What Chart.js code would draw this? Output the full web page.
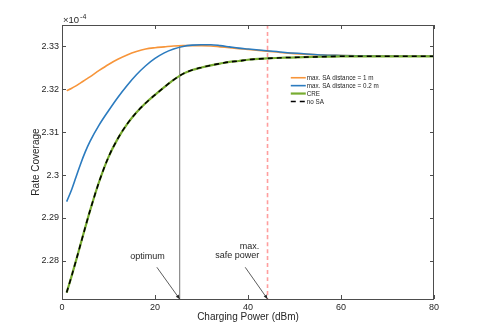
<!DOCTYPE html>
<html>
<head>
<meta charset="utf-8">
<script src="https://cdn.jsdelivr.net/npm/chart.js@4.4.1/dist/chart.umd.min.js"></script>
<style>
  html, body { margin: 0; padding: 0; background: #fff; }
  #wrap { width: 480px; height: 336px; }
</style>
</head>
<body>
<div id="wrap"><canvas id="chart" width="480" height="336"></canvas></div>
<script>
// x values (dBm) shared by every curve
const powerDbm = [1, 2, 3, 4, 5, 6, 8, 10, 12, 14, 16, 18, 20, 22, 24, 26, 28, 30, 32, 34, 36, 38, 40, 44, 48, 52, 56, 60, 65, 70, 75, 80];

// rate coverage, in units of 1e-4
const saDist1m = [2.3197, 2.3202, 2.3208, 2.3215, 2.3222, 2.3229, 2.3244, 2.3258, 2.3270, 2.3280, 2.3288, 2.3294, 2.3297, 2.3299, 2.3301, 2.3302,
  2.3302, 2.3302, 2.3301, 2.3299, 2.3297, 2.3295, 2.3293, 2.3289, 2.3285, 2.3282, 2.3280, 2.3279, 2.3278, 2.3277, 2.3277, 2.3277];
const saDist02m = [2.2938, 2.2964, 2.2995, 2.3026, 2.3054, 2.3078, 2.3117, 2.3150, 2.3181, 2.3209, 2.3234, 2.3255, 2.3272, 2.3285, 2.3294, 2.3300,
  2.3303, 2.3304, 2.3304, 2.3302, 2.3299, 2.3296, 2.3294, 2.3290, 2.3286, 2.3283, 2.3280, 2.3279, 2.3278, 2.3277, 2.3277, 2.3277];
const cre = [2.2726, 2.2762, 2.2800, 2.2839, 2.2878, 2.2916, 2.2985, 2.3042, 2.3085, 2.3119, 2.3146, 2.3168, 2.3187, 2.3205, 2.3222, 2.3236,
  2.3245, 2.3251, 2.3256, 2.3260, 2.3264, 2.3266, 2.3269, 2.3272, 2.3274, 2.3275, 2.3276, 2.3277, 2.3277, 2.3277, 2.3277, 2.3277];
const noSA = [2.2726, 2.2762, 2.2800, 2.2839, 2.2878, 2.2916, 2.2985, 2.3042, 2.3085, 2.3119, 2.3146, 2.3168, 2.3187, 2.3205, 2.3222, 2.3236,
  2.3245, 2.3251, 2.3256, 2.3260, 2.3264, 2.3266, 2.3269, 2.3272, 2.3274, 2.3275, 2.3276, 2.3277, 2.3277, 2.3277, 2.3277, 2.3277];

const seriesNames = ['max. SA distance = 1 m', 'max. SA distance = 0.2 m', 'CRE', 'no SA'];

// axes
const xTicks = [0, 20, 40, 60, 80];
const xRange = [0, 80];
const yTicks = [2.28, 2.29, 2.30, 2.31, 2.32, 2.33];
const yTickLabels = ['2.28', '2.29', '2.3', '2.31', '2.32', '2.33'];
const yRange = [2.2711, 2.3350];

// markers: optimum power and max. safe power
const optimumX = 25.3;
const optimumTopY = 2.3301;
const safePowerX = 44.2;

const FONT = '"Liberation Sans", Arial, Helvetica, sans-serif';
const INK = '#262626';
const AXIS = '#4d4d4d';

const toXY = (arr) => arr.map((v, i) => ({ x: powerDbm[i], y: v }));

const data = {
  datasets: [
    { label: seriesNames[3], data: toXY(noSA), borderColor: '#000000', borderWidth: 1.6, borderDash: [5, 4] },
    { label: seriesNames[2], data: toXY(cre), borderColor: '#77ac30', borderWidth: 2.2 },
    { label: seriesNames[1], data: toXY(saDist02m), borderColor: '#2b7bbf', borderWidth: 1.6 },
    { label: seriesNames[0], data: toXY(saDist1m), borderColor: '#f7953a', borderWidth: 1.6 },
    { label: 'optimum', data: [{ x: optimumX, y: optimumTopY }, { x: optimumX, y: yRange[0] }], borderColor: '#8c8c8c', borderWidth: 1.2 },
    { label: 'max. safe power', data: [{ x: safePowerX, y: yRange[1] }, { x: safePowerX, y: yRange[0] }], borderColor: '#ff9e9e', borderWidth: 1.6, borderDash: [4, 3] }
  ].map(d => Object.assign({ pointRadius: 0, fill: false, cubicInterpolationMode: 'monotone' }, d))
};

// arrow helper
function arrow(ctx, x1, y1, x2, y2) {
  const a = Math.atan2(y2 - y1, x2 - x1), h = 4.5;
  ctx.beginPath();
  ctx.moveTo(x1, y1);
  ctx.lineTo(x2, y2);
  ctx.stroke();
  ctx.beginPath();
  ctx.moveTo(x2, y2);
  ctx.lineTo(x2 - h * Math.cos(a - 0.4), y2 - h * Math.sin(a - 0.4));
  ctx.lineTo(x2 - h * Math.cos(a + 0.4), y2 - h * Math.sin(a + 0.4));
  ctx.closePath();
  ctx.fill();
}

// MATLAB-like box, inward ticks, exponent, legend and annotations
const matlabLook = {
  id: 'matlabLook',
  afterDatasetsDraw(chart) {
    const { ctx, chartArea: a, scales: { x, y } } = chart;
    ctx.save();
    // box + inward ticks
    ctx.strokeStyle = AXIS;
    ctx.lineWidth = 1;
    ctx.strokeRect(a.left + 0.5, a.top + 0.5, a.right - a.left - 1, a.bottom - a.top);
    ctx.beginPath();
    xTicks.forEach(v => {
      const px = Math.round(x.getPixelForValue(v)) + 0.5;
      ctx.moveTo(px, a.bottom); ctx.lineTo(px, a.bottom - 4);
      ctx.moveTo(px, a.top); ctx.lineTo(px, a.top + 4);
    });
    yTicks.forEach(v => {
      const py = Math.round(y.getPixelForValue(v)) + 0.5;
      ctx.moveTo(a.left, py); ctx.lineTo(a.left + 4, py);
      ctx.moveTo(a.right, py); ctx.lineTo(a.right - 4, py);
    });
    ctx.stroke();

    // exponent label
    ctx.fillStyle = INK;
    ctx.textBaseline = 'alphabetic';
    ctx.textAlign = 'left';
    ctx.font = '9.5px ' + FONT;
    ctx.fillText('\u00d710', a.left + 1, a.top - 2);
    const w = ctx.measureText('\u00d710').width;
    ctx.font = '7px ' + FONT;
    ctx.fillText('-4', a.left + 1 + w + 1, a.top - 6);

    // legend
    const lx = x.getPixelForValue(49.2), ly0 = y.getPixelForValue(2.3227);
    ctx.font = '6.3px ' + FONT;
    ctx.textBaseline = 'middle';
    const legendSets = [3, 2, 1, 0];
    legendSets.forEach((di, i) => {
      const ds = data.datasets[di];
      const yy = ly0 + i * 7.9;
      ctx.strokeStyle = ds.borderColor;
      ctx.lineWidth = ds.borderWidth;
      ctx.setLineDash(ds.borderDash || []);
      ctx.beginPath();
      ctx.moveTo(lx, yy); ctx.lineTo(lx + 15, yy);
      ctx.stroke();
      ctx.setLineDash([]);
      ctx.fillStyle = INK;
      ctx.fillText(ds.label, lx + 16, yy + 0.5);
    });

    // annotations
    ctx.fillStyle = INK;
    ctx.strokeStyle = '#333333';
    ctx.lineWidth = 0.8;
    ctx.font = '9px ' + FONT;
    ctx.textBaseline = 'middle';
    ctx.textAlign = 'center';
    ctx.fillText('optimum', x.getPixelForValue(18.4), y.getPixelForValue(2.2809));
    arrow(ctx, x.getPixelForValue(20.4), y.getPixelForValue(2.2785), x.getPixelForValue(optimumX), y.getPixelForValue(yRange[0]));
    ctx.textAlign = 'right';
    ctx.fillText('max.', x.getPixelForValue(42.4), y.getPixelForValue(2.2833));
    ctx.fillText('safe power', x.getPixelForValue(42.4), y.getPixelForValue(2.2813));
    arrow(ctx, x.getPixelForValue(39.4), y.getPixelForValue(2.2785), x.getPixelForValue(safePowerX), y.getPixelForValue(yRange[0]));
    ctx.restore();
  }
};

new Chart(document.getElementById('chart'), {
  type: 'line',
  data: data,
  options: {
    responsive: false,
    devicePixelRatio: 1,
    animation: false,
    layout: { padding: { top: 25, right: 46, left: 0, bottom: 0 } },
    plugins: { legend: { display: false }, tooltip: { enabled: false } },
    scales: {
      x: {
        type: 'linear',
        min: xRange[0], max: xRange[1],
        afterBuildTicks: s => { s.ticks = xTicks.map(v => ({ value: v })); },
        afterFit: s => { s.height = 37; },
        grid: { display: false, drawTicks: false },
        border: { display: false },
        ticks: { color: INK, font: { family: FONT, size: 9 }, padding: 3, maxRotation: 0 },
        title: { display: true, text: 'Charging Power (dBm)', color: INK, font: { family: FONT, size: 10 }, padding: { top: 0, bottom: 13 } }
      },
      y: {
        type: 'linear',
        min: yRange[0], max: yRange[1],
        afterBuildTicks: s => { s.ticks = yTicks.map(v => ({ value: v })); },
        afterFit: s => { s.width = 62; },
        grid: { display: false, drawTicks: false },
        border: { display: false },
        ticks: { color: INK, font: { family: FONT, size: 9 }, padding: 3,
          callback: (v) => { const i = yTicks.findIndex(t => Math.abs(t - v) < 1e-6); return i >= 0 ? yTickLabels[i] : ''; } },
        title: { display: true, text: 'Rate Coverage', color: INK, font: { family: FONT, size: 10 }, padding: { top: 30, bottom: 0 } }
      }
    }
  },
  plugins: [matlabLook]
});
</script>
</body>
</html>
